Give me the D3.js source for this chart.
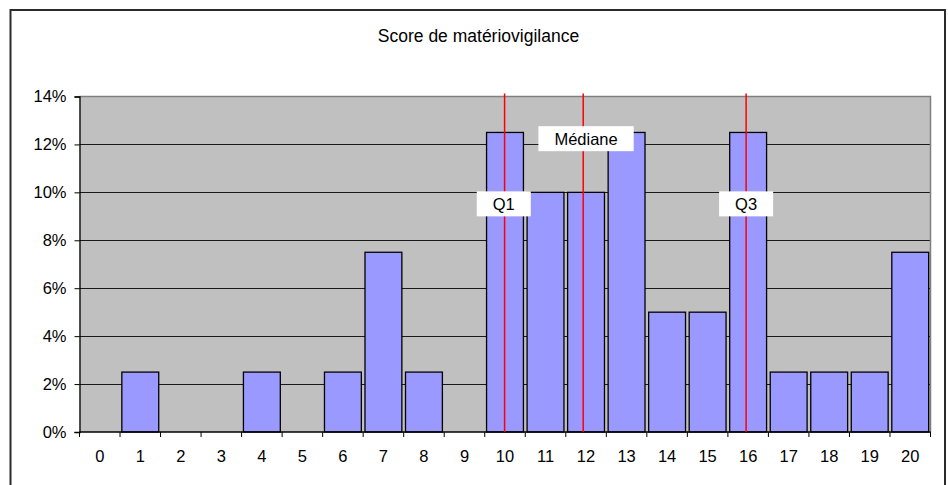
<!DOCTYPE html>
<html>
<head>
<meta charset="utf-8">
<script src="https://cdn.jsdelivr.net/npm/d3@7"></script>
<style>
  html, body { margin: 0; padding: 0; background: #fff; }
  svg { display: block; font-family: "Liberation Sans", Arial, sans-serif; }
</style>
</head>
<body>
<svg id="chart" width="948" height="485"></svg>
<script>
// ---- data ----
const title = "Score de matériovigilance";
const categories = ["0","1","2","3","4","5","6","7","8","9","10","11","12","13","14","15","16","17","18","19","20"];
const values = [0, 0.025, 0, 0, 0.025, 0, 0.025, 0.075, 0.025, 0, 0.125, 0.10, 0.10, 0.125, 0.05, 0.05, 0.125, 0.025, 0.025, 0.025, 0.075];
const yTicks = [0, 0.02, 0.04, 0.06, 0.08, 0.10, 0.12, 0.14];
// quartile markers: label, line position (score), label position (score), label height (value)
const markerNames = ["Q1", "Médiane", "Q3"];
const markerLinePos = [9.99, 11.93, 15.95];
const markerLabelPos = [9.97, 12.0, 15.95];
const markerLabelY = [0.0952, 0.1224, 0.0952];

// ---- layout ----
const svg = d3.select("#chart");
const plot = { left: 79.5, right: 930.5, top: 96.5, bottom: 432 };

// outer frame
svg.append("rect")
  .attr("x", 10.5).attr("y", 10).attr("width", 934.5).attr("height", 490)
  .attr("fill", "#fff").attr("stroke", "#2b2b2b").attr("stroke-width", 2);

// title
svg.append("text")
  .attr("x", 478.5).attr("y", 41.5)
  .attr("text-anchor", "middle")
  .attr("font-size", 17.5)
  .attr("fill", "#000")
  .text(title);

const x = d3.scaleBand()
  .domain(categories)
  .range([plot.left, plot.right])
  .paddingInner(0.09)
  .paddingOuter(0.045);

const xLin = d3.scaleLinear()
  .domain([-0.5, categories.length - 0.5])
  .range([plot.left, plot.right]);

const y = d3.scaleLinear()
  .domain([0, 0.14])
  .range([plot.bottom, plot.top]);

// plot background
svg.append("rect")
  .attr("x", plot.left).attr("y", plot.top)
  .attr("width", plot.right - plot.left).attr("height", plot.bottom - plot.top)
  .attr("fill", "#c0c0c0");

// gridlines
svg.append("g")
  .selectAll("line")
  .data(yTicks.filter(t => t > 0 && t < 0.14))
  .join("line")
  .attr("x1", plot.left).attr("x2", plot.right)
  .attr("y1", d => Math.round(y(d)) + 0.5).attr("y2", d => Math.round(y(d)) + 0.5)
  .attr("stroke", "#1a1a1a").attr("stroke-width", 1);

// plot border top/right (gray)
svg.append("path")
  .attr("d", `M${plot.left},${plot.top}H${plot.right}V${plot.bottom}`)
  .attr("fill", "none").attr("stroke", "#808080").attr("stroke-width", 1.5);

// bars
svg.append("g")
  .selectAll("rect")
  .data(values.map((v, i) => ({ c: categories[i], v })).filter(d => d.v > 0))
  .join("rect")
  .attr("x", d => x(d.c))
  .attr("y", d => y(d.v))
  .attr("width", x.bandwidth())
  .attr("height", d => plot.bottom - y(d.v))
  .attr("fill", "#9999ff")
  .attr("stroke", "#000")
  .attr("stroke-width", 1.3);

// y axis
const yAxis = d3.axisLeft(y)
  .tickValues(yTicks)
  .tickSize(5)
  .tickPadding(8)
  .tickFormat(d => Math.round(d * 100) + "%");
const gy = svg.append("g")
  .attr("transform", `translate(${plot.left},0)`)
  .call(yAxis);
gy.select(".domain").attr("stroke", "#000").attr("stroke-width", 1.3);
gy.selectAll(".tick line").attr("stroke", "#000");
gy.selectAll(".tick text")
  .attr("font-size", 16.5)
  .attr("font-family", "'Liberation Sans', Arial, sans-serif")
  .attr("fill", "#000");

// x axis (ticks at band boundaries)
const gx = svg.append("g")
  .attr("transform", `translate(0,${plot.bottom})`);
gx.append("line")
  .attr("x1", plot.left).attr("x2", plot.right)
  .attr("y1", 0).attr("y2", 0)
  .attr("stroke", "#000").attr("stroke-width", 1.3);
gx.selectAll("line.tk")
  .data(d3.range(categories.length + 1))
  .join("line")
  .attr("class", "tk")
  .attr("x1", d => xLin(d - 0.5)).attr("x2", d => xLin(d - 0.5))
  .attr("y1", 0).attr("y2", 5)
  .attr("stroke", "#000");
gx.selectAll("text")
  .data(categories)
  .join("text")
  .attr("x", d => x(d) + x.bandwidth() / 2)
  .attr("y", 30)
  .attr("text-anchor", "middle")
  .attr("font-size", 16.5)
  .attr("fill", "#000")
  .text(d => d);

// quartile lines
svg.append("g")
  .selectAll("line")
  .data(markerLinePos)
  .join("line")
  .attr("x1", d => xLin(d)).attr("x2", d => xLin(d))
  .attr("y1", 93.5).attr("y2", plot.bottom)
  .attr("stroke", "#ff0000").attr("stroke-width", 1.5);

// quartile labels
const lab = svg.append("g")
  .selectAll("g")
  .data(markerNames.map((n, i) => ({ n, p: markerLabelPos[i], v: markerLabelY[i] })))
  .join("g")
  .attr("transform", d => `translate(${xLin(d.p)},${y(d.v)})`);
lab.append("text")
  .attr("text-anchor", "middle")
  .attr("dy", "0.36em")
  .attr("font-size", 16.5)
  .attr("fill", "#000")
  .text(d => d.n);
lab.each(function () {
  const g = d3.select(this);
  const w = g.select("text").node().getComputedTextLength() + 32;
  g.insert("rect", "text")
    .attr("x", -w / 2).attr("y", -12.5)
    .attr("width", w).attr("height", 25)
    .attr("fill", "#fff");
});
</script>
</body>
</html>
